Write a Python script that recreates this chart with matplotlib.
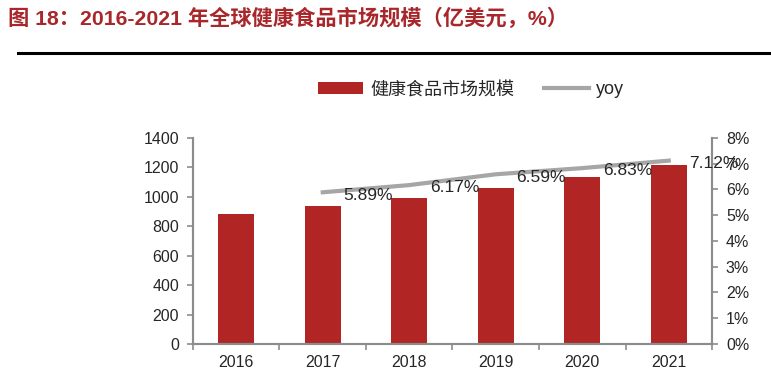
import matplotlib
matplotlib.use("Agg")
import numpy as np
from matplotlib import pyplot as plt
from matplotlib.lines import Line2D
from matplotlib.patches import Patch

plt.rcParams['font.family'] = ['Liberation Sans', 'Noto Sans CJK SC', 'DejaVu Sans']

# data
years = ['2016', '2017', '2018', '2019', '2020', '2021']
market_size = [884, 937, 995, 1061, 1133, 1214]   # 亿美元
yoy_years = ['2017', '2018', '2019', '2020', '2021']
yoy = [5.89, 6.17, 6.59, 6.83, 7.12]              # %

title = '图 18：2016-2021 年全球健康食品市场规模（亿美元，%）'
bar_label = '健康食品市场规模'
line_label = 'yoy'

bar_color = '#B22525'
line_color = '#A6A6A6'
axis_color = '#8C8C8C'
text_color = '#262626'

fig = plt.figure(figsize=(7.71, 3.84), dpi=100)
ax = fig.add_axes([0.2503, 0.1042, 0.6732, 0.5365])

x = np.arange(len(years))
ax.bar(x, market_size, width=0.42, color=bar_color, zorder=2)
ax.set_xlim(-0.5, len(years) - 0.5)
ax.set_ylim(0, 1400)
ax.set_yticks(np.arange(0, 1401, 200))
ax.set_xticks(x)
ax.set_xticklabels(years)
ax.set_xticks(np.arange(-0.5, len(years), 1), minor=True)
ax.tick_params(axis='x', which='major', length=0, pad=8)
ax.tick_params(axis='x', which='minor', length=4, color=axis_color, width=1.2)
ax.tick_params(axis='y', length=4, color=axis_color, width=1.2, pad=6)
ax.tick_params(labelsize=11.5, labelcolor=text_color)

ax2 = ax.twinx()
xi = [years.index(y) for y in yoy_years]
ax2.plot(xi, yoy, color=line_color, lw=3, zorder=3)
ax2.set_ylim(0, 8)
ax2.set_yticks(range(0, 9))
ax2.set_yticklabels([f'{v}%' for v in range(0, 9)])
ax2.tick_params(axis='y', length=4, color=axis_color, width=1.2, pad=6,
                labelsize=11.5, labelcolor=text_color)
for xv, v in zip(xi, yoy):
    ax2.annotate(f'{v:.2f}%', (xv, v), xytext=(15, -2), textcoords='offset points',
                 ha='left', va='center', fontsize=12.5, color=text_color)

for a in (ax, ax2):
    a.spines['top'].set_visible(False)
    for s in ('left', 'right', 'bottom'):
        a.spines[s].set_color(axis_color)
        a.spines[s].set_linewidth(1.5)

handles = [Patch(facecolor=bar_color, edgecolor='none'),
           Line2D([0], [0], color=line_color, lw=3)]
fig.legend(handles, [bar_label, line_label], loc='center', bbox_to_anchor=(0.611, 0.766),
           ncol=2, frameon=False, fontsize=13, handlelength=2.5, handleheight=0.6,
           columnspacing=1.6, handletextpad=0.4, labelcolor=text_color)

fig.text(0.010, 0.953, title, fontsize=15.3, fontweight='bold', color='#A8272A',
         ha='left', va='center')
fig.add_artist(Line2D([0.023, 1.0], [0.862, 0.862], color='black', lw=2.2,
                      transform=fig.transFigure))

fig.savefig('out.png', dpi=100)
